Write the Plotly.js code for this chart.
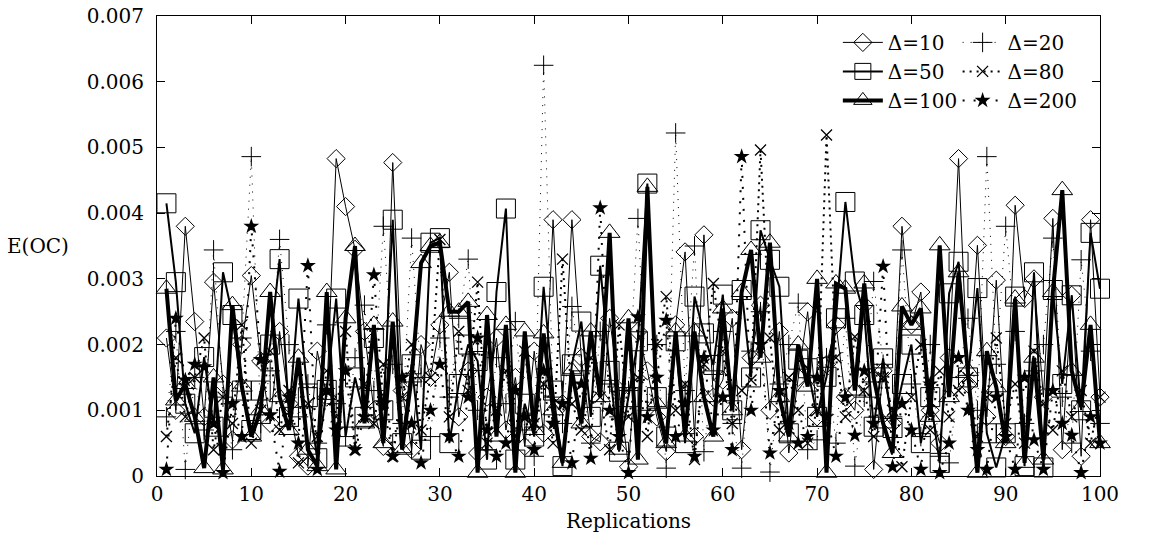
<!DOCTYPE html>
<html>
<head>
<meta charset="utf-8">
<script src="https://cdn.plot.ly/plotly-3.0.1.min.js"></script>
<style>html,body{margin:0;padding:0;background:#fff;}#chart{width:1157px;height:546px;}</style>
</head>
<body>
<div id="chart"></div>
<script>
const reps = [1,2,3,4,5,6,7,8,9,10,11,12,13,14,15,16,17,18,19,20,21,22,23,24,25,26,27,28,29,30,31,32,33,34,35,36,37,38,39,40,41,42,43,44,45,46,47,48,49,50,51,52,53,54,55,56,57,58,59,60,61,62,63,64,65,66,67,68,69,70,71,72,73,74,75,76,77,78,79,80,81,82,83,84,85,86,87,88,89,90,91,92,93,94,95,96,97,98,99,100];

const d10 = [2.10e-3,1.00e-3,3.80e-3,2.35e-3,0.90e-3,2.95e-3,1.40e-3,0.55e-3,2.00e-3,3.05e-3,
 1.75e-3,0.80e-3,2.20e-3,1.10e-3,0.30e-3,0.15e-3,1.90e-3,1.20e-3,4.83e-3,4.10e-3,
 3.45e-3,2.20e-3,1.00e-3,0.45e-3,4.77e-3,1.30e-3,0.40e-3,2.00e-3,1.50e-3,2.30e-3,
 3.10e-3,0.90e-3,1.60e-3,0.35e-3,1.20e-3,2.10e-3,0.70e-3,1.50e-3,0.45e-3,1.90e-3,
 0.65e-3,3.90e-3,1.10e-3,3.90e-3,1.80e-3,0.60e-3,0.52e-3,2.40e-3,1.30e-3,0.14e-3,
 2.20e-3,1.60e-3,0.90e-3,0.37e-3,2.30e-3,3.41e-3,0.60e-3,3.67e-3,1.20e-3,1.46e-3,
 2.40e-3,0.40e-3,1.80e-3,2.60e-3,1.00e-3,2.20e-3,0.35e-3,1.50e-3,2.50e-3,0.90e-3,
 1.70e-3,2.30e-3,1.20e-3,1.00e-3,2.60e-3,0.10e-3,1.60e-3,0.80e-3,3.80e-3,2.30e-3,
 2.80e-3,1.00e-3,0.50e-3,1.80e-3,4.83e-3,1.40e-3,3.51e-3,0.90e-3,2.98e-3,0.60e-3,
 4.12e-3,2.70e-3,3.00e-3,1.20e-3,3.92e-3,0.40e-3,2.75e-3,0.30e-3,3.90e-3,1.20e-3];

const d20 = [0.90e-3,2.20e-3,0.10e-3,1.50e-3,0.70e-3,3.44e-3,1.20e-3,0.40e-3,2.10e-3,4.86e-3,
 0.80e-3,1.60e-3,3.60e-3,2.00e-3,0.90e-3,1.40e-3,0.50e-3,2.30e-3,1.10e-3,0.60e-3,
 1.80e-3,2.60e-3,1.30e-3,3.80e-3,1.70e-3,0.80e-3,3.62e-3,1.50e-3,0.60e-3,2.10e-3,
 1.20e-3,2.40e-3,3.30e-3,1.00e-3,0.40e-3,1.80e-3,1.10e-3,2.35e-3,0.70e-3,0.30e-3,
 6.25e-3,1.20e-3,0.80e-3,2.58e-3,1.60e-3,0.50e-3,2.20e-3,1.40e-3,0.90e-3,1.30e-3,
 3.92e-3,1.00e-3,2.00e-3,0.12e-3,5.22e-3,1.30e-3,3.50e-3,0.37e-3,1.60e-3,2.20e-3,
 0.80e-3,0.12e-3,1.90e-3,2.50e-3,0.06e-3,1.40e-3,2.00e-3,2.63e-3,0.40e-3,0.55e-3,
 1.80e-3,0.50e-3,2.40e-3,0.15e-3,1.20e-3,2.96e-3,1.70e-3,0.90e-3,3.44e-3,1.40e-3,
 0.60e-3,2.00e-3,0.30e-3,0.20e-3,1.50e-3,2.40e-3,1.00e-3,4.86e-3,1.70e-3,3.80e-3,
 2.20e-3,0.80e-3,1.60e-3,2.00e-3,3.62e-3,1.20e-3,0.50e-3,3.29e-3,1.90e-3,0.80e-3];

const d50 = [4.15e-3,2.95e-3,1.10e-3,0.65e-3,1.81e-3,0.75e-3,3.10e-3,2.45e-3,1.30e-3,0.70e-3,
 1.30e-3,2.00e-3,3.30e-3,0.90e-3,2.70e-3,1.20e-3,0.27e-3,1.31e-3,2.70e-3,0.60e-3,
 1.50e-3,0.90e-3,2.10e-3,1.00e-3,3.90e-3,0.50e-3,1.70e-3,0.40e-3,3.55e-3,3.62e-3,
 0.50e-3,1.40e-3,2.00e-3,1.75e-3,0.25e-3,2.80e-3,4.07e-3,0.25e-3,1.10e-3,0.60e-3,
 2.88e-3,1.30e-3,0.15e-3,1.70e-3,2.35e-3,0.90e-3,3.20e-3,1.60e-3,0.37e-3,1.20e-3,
 2.05e-3,4.45e-3,1.20e-3,0.60e-3,2.05e-3,0.50e-3,2.73e-3,2.17e-3,1.69e-3,2.76e-3,
 1.00e-3,2.83e-3,1.50e-3,3.74e-3,3.29e-3,2.88e-3,0.65e-3,1.77e-3,1.64e-3,0.90e-3,
 1.51e-3,2.40e-3,4.17e-3,2.96e-3,2.45e-3,0.75e-3,1.79e-3,0.73e-3,1.40e-3,2.00e-3,
 0.50e-3,1.20e-3,0.20e-3,2.78e-3,3.26e-3,1.50e-3,2.86e-3,0.65e-3,0.13e-3,0.65e-3,
 2.73e-3,0.15e-3,3.10e-3,0.13e-3,2.83e-3,1.40e-3,2.75e-3,1.00e-3,3.70e-3,2.85e-3];

const d80 = [0.60e-3,1.80e-3,0.90e-3,1.50e-3,2.10e-3,0.40e-3,1.20e-3,0.80e-3,2.30e-3,0.50e-3,
 1.00e-3,1.90e-3,0.70e-3,1.30e-3,0.20e-3,1.10e-3,0.60e-3,1.60e-3,0.90e-3,2.20e-3,
 0.40e-3,1.40e-3,0.80e-3,1.70e-3,0.30e-3,1.20e-3,2.00e-3,0.70e-3,1.50e-3,3.60e-3,
 0.90e-3,2.20e-3,1.30e-3,2.95e-3,0.50e-3,1.00e-3,1.60e-3,0.60e-3,1.90e-3,0.80e-3,
 1.40e-3,0.50e-3,3.30e-3,1.10e-3,0.70e-3,1.80e-3,1.20e-3,0.40e-3,2.30e-3,0.90e-3,
 1.50e-3,0.60e-3,2.00e-3,2.73e-3,1.00e-3,1.40e-3,0.25e-3,1.70e-3,2.93e-3,1.90e-3,
 0.80e-3,1.30e-3,1.46e-3,4.96e-3,2.10e-3,0.70e-3,1.50e-3,1.00e-3,0.50e-3,1.00e-3,
 5.19e-3,1.80e-3,0.90e-3,2.12e-3,1.30e-3,0.60e-3,1.50e-3,1.00e-3,0.14e-3,1.20e-3,
 2.00e-3,0.70e-3,1.60e-3,0.90e-3,1.30e-3,1.50e-3,0.60e-3,1.20e-3,2.10e-3,0.80e-3,
 1.40e-3,0.50e-3,1.90e-3,1.10e-3,0.70e-3,1.60e-3,0.90e-3,1.30e-3,0.50e-3,1.20e-3];

const d100 = [2.85e-3,1.15e-3,1.40e-3,0.90e-3,0.12e-3,1.50e-3,0.10e-3,2.60e-3,1.36e-3,0.60e-3,
 1.00e-3,2.80e-3,1.20e-3,0.70e-3,1.80e-3,0.40e-3,0.15e-3,2.80e-3,0.10e-3,2.40e-3,
 3.50e-3,0.80e-3,2.30e-3,0.50e-3,2.35e-3,0.40e-3,1.50e-3,3.24e-3,3.50e-3,3.55e-3,
 2.50e-3,2.50e-3,2.65e-3,0.05e-3,2.45e-3,0.60e-3,2.30e-3,0.05e-3,2.20e-3,0.70e-3,
 2.17e-3,1.00e-3,0.20e-3,1.60e-3,0.80e-3,2.20e-3,1.20e-3,3.70e-3,0.40e-3,2.40e-3,
 0.25e-3,4.40e-3,1.10e-3,0.50e-3,2.20e-3,0.60e-3,2.20e-3,1.20e-3,0.60e-3,2.55e-3,
 1.00e-3,2.80e-3,3.44e-3,1.80e-3,3.55e-3,1.20e-3,0.60e-3,2.00e-3,1.36e-3,3.00e-3,
 0.05e-3,2.93e-3,2.85e-3,1.30e-3,2.93e-3,1.50e-3,0.80e-3,0.35e-3,2.58e-3,2.30e-3,
 2.55e-3,0.90e-3,3.51e-3,1.20e-3,3.10e-3,1.60e-3,0.05e-3,1.90e-3,1.35e-3,0.50e-3,
 2.70e-3,0.20e-3,1.80e-3,0.25e-3,2.80e-3,4.35e-3,1.60e-3,1.05e-3,2.30e-3,0.50e-3];

const d200 = [0.10e-3,2.40e-3,1.46e-3,1.70e-3,1.66e-3,0.80e-3,0.05e-3,1.10e-3,0.60e-3,3.80e-3,
 1.77e-3,0.93e-3,0.07e-3,1.20e-3,0.50e-3,3.20e-3,0.10e-3,1.30e-3,0.70e-3,1.60e-3,
 0.40e-3,0.90e-3,3.06e-3,1.10e-3,0.30e-3,1.50e-3,0.80e-3,0.20e-3,1.00e-3,1.70e-3,
 0.60e-3,0.30e-3,1.20e-3,2.10e-3,0.70e-3,0.30e-3,0.50e-3,1.30e-3,0.90e-3,0.40e-3,
 1.60e-3,0.80e-3,1.10e-3,0.20e-3,1.40e-3,0.27e-3,4.08e-3,1.00e-3,0.60e-3,0.05e-3,
 2.42e-3,0.90e-3,1.50e-3,2.37e-3,0.60e-3,1.10e-3,0.30e-3,1.80e-3,0.70e-3,1.20e-3,
 0.40e-3,4.86e-3,1.00e-3,2.00e-3,0.35e-3,1.30e-3,0.80e-3,0.50e-3,0.60e-3,1.50e-3,
 0.90e-3,0.30e-3,1.20e-3,0.62e-3,1.60e-3,0.80e-3,3.19e-3,0.14e-3,1.10e-3,0.70e-3,
 0.10e-3,1.40e-3,0.05e-3,0.50e-3,1.80e-3,1.00e-3,0.40e-3,0.10e-3,1.20e-3,0.60e-3,
 0.10e-3,1.50e-3,0.55e-3,0.10e-3,1.30e-3,0.80e-3,0.62e-3,0.05e-3,0.90e-3,0.50e-3];

const seriesNames = ['\u0394=10','\u0394=20','\u0394=50','\u0394=80','\u0394=100','\u0394=200'];
const yTickVals = [0,0.001,0.002,0.003,0.004,0.005,0.006,0.007];
const yTickText = ['0','0.001','0.002','0.003','0.004','0.005','0.006','0.007'];
const xTickVals = [0,10,20,30,40,50,60,70,80,90,100];

const FONT = 'DejaVu Serif';
const base = {type:'scatter', mode:'lines+markers', x: reps, cliponaxis:false, hoverinfo:'skip'};

const traces = [
  Object.assign({}, base, {y:d10, name:seriesNames[0], legend:'legend',
    line:{color:'#000', width:1},
    marker:{symbol:'diamond-open', size:14, color:'#000', line:{width:1, color:'#000'}}}),
  Object.assign({}, base, {y:d20, name:seriesNames[1], legend:'legend2',
    line:{color:'#000', width:1, dash:'1px,7px'},
    marker:{symbol:'cross-thin-open', size:14, color:'#000', line:{width:1, color:'#000'}}}),
  Object.assign({}, base, {y:d50, name:seriesNames[2], legend:'legend',
    line:{color:'#000', width:2},
    marker:{symbol:'square-open', size:19, color:'#000', line:{width:1, color:'#000'}}}),
  Object.assign({}, base, {y:d80, name:seriesNames[3], legend:'legend2',
    line:{color:'#000', width:2, dash:'2px,5px'},
    marker:{symbol:'x-thin-open', size:11, color:'#000', line:{width:1.3, color:'#000'}}}),
  Object.assign({}, base, {y:d100, name:seriesNames[4], legend:'legend',
    line:{color:'#000', width:4},
    marker:{symbol:'triangle-up-open', size:18, color:'#000', line:{width:1, color:'#000'}}}),
  Object.assign({}, base, {y:d200, name:seriesNames[5], legend:'legend2',
    line:{color:'#000', width:2, dash:'2px,9px'},
    marker:{symbol:'star', size:12, color:'#000', line:{width:0, color:'#000'}}})
];

const legendCommon = {
  bgcolor:'rgba(0,0,0,0)', borderwidth:0, font:{family:FONT, size:20, color:'#000'},
  orientation:'v', xanchor:'left', yanchor:'top', itemwidth:40, tracegroupgap:0, traceorder:'normal',
  itemclick:false, itemdoubleclick:false
};

const layout = {
  width:1157, height:546,
  margin:{l:157, r:57, t:16, b:70, pad:0},
  paper_bgcolor:'#fff', plot_bgcolor:'#fff',
  font:{family:FONT, size:20, color:'#000'},
  showlegend:true,
  legend:Object.assign({}, legendCommon, {x:0.722, y:0.985}),
  legend2:Object.assign({}, legendCommon, {x:0.849, y:0.985}),
  xaxis:{range:[0,100], tickvals:xTickVals, ticks:'inside', ticklen:8, tickwidth:1, tickcolor:'#000',
    showline:true, linecolor:'#000', linewidth:1, mirror:'ticks', showgrid:false, zeroline:false,
    tickfont:{family:FONT, size:20, color:'#000'},
    title:{text:'Replications', font:{family:FONT, size:20, color:'#000'}, standoff:8}},
  yaxis:{range:[0,0.007], tickvals:yTickVals, ticktext:yTickText, ticks:'inside', ticklen:8, tickwidth:1, tickcolor:'#000',
    showline:true, linecolor:'#000', linewidth:1, mirror:'ticks', showgrid:false, zeroline:false,
    ticklabelstandoff:8,
    tickfont:{family:FONT, size:20, color:'#000'}},
  annotations:[{text:'E(OC)', xref:'paper', yref:'paper', x:-0.1262, y:0.5, xanchor:'center', yanchor:'middle',
    showarrow:false, font:{family:FONT, size:20, color:'#000'}}]
};

Plotly.newPlot('chart', traces, layout, {staticPlot:true, displayModeBar:false});
</script>
</body>
</html>
